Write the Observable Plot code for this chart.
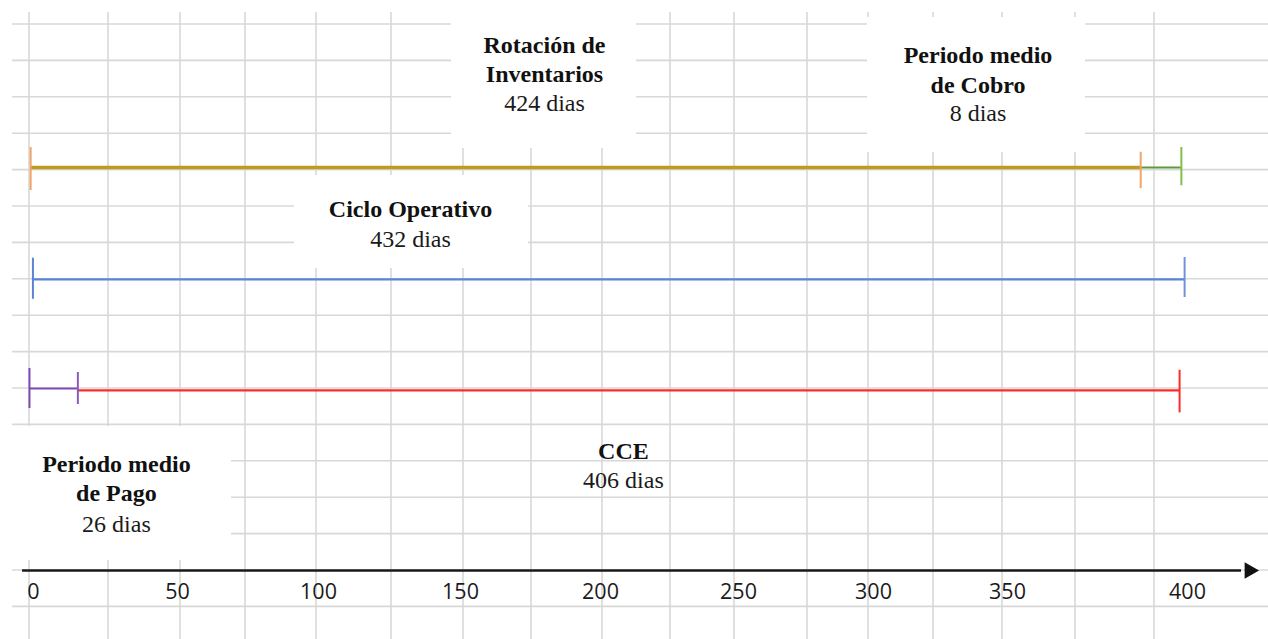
<!DOCTYPE html>
<html>
<head>
<meta charset="utf-8">
<script src="https://cdn.jsdelivr.net/npm/d3@7"></script>
<script src="https://cdn.jsdelivr.net/npm/@observablehq/plot@0.6"></script>
<style>
  html, body { margin: 0; padding: 0; background: #ffffff; overflow: hidden; }
</style>
</head>
<body>
<div id="chart"></div>
<script>
// ---------------- DATA ----------------
const seriesNames = ["Rotación de Inventarios", "Periodo medio de Cobro", "Ciclo Operativo", "Periodo medio de Pago", "CCE"];
const seriesDays  = [424, 8, 432, 26, 406];
// segment extents as drawn against the axis
const segStart = [-1, 387, -0.2, -1.4, 15.4];
const segEnd   = [387, 398.3, 399.2, 15.4, 397.8];
const tickValues = [0, 50, 100, 150, 200, 250, 300, 350, 400];
const tickLabels = ["0", "50", "100", "150", "200", "250", "300", "350", "400"];

// ---------------- LAYOUT / STYLE ----------------
const W = 1268, H = 639;
const tickPx = [33, 177, 318, 460, 600, 738, 873, 1007, 1187];   // axis label positions (px)
const seriesRow   = [3.93, 3.93, 7.0, 10.0, 10.05];                // spreadsheet row units
const seriesColor = ["#C09A1F", "#5E9B3C", "#5B84D4", "#7E4BB5", "#FF2B2B"];
const seriesWidth = [3.5, 2, 2.2, 2, 2.2];
// end caps: series index, which end, colour, extent above/below (rows)
const caps = [
  {s: 0, end: "start", color: "#F2A466", up: 0.55, down: 0.63},
  {s: 0, end: "end",   color: "#F2A466", up: 0.42, down: 0.58},
  {s: 1, end: "end",   color: "#7FBF4A", up: 0.55, down: 0.50},
  {s: 2, end: "start", color: "#5B84D4", up: 0.58, down: 0.55},
  {s: 2, end: "end",   color: "#6E93DA", up: 0.60, down: 0.50},
  {s: 3, end: "start", color: "#7E4BB5", up: 0.55, down: 0.55},
  {s: 3, end: "end",   color: "#8A5BBE", up: 0.44, down: 0.44},
  {s: 4, end: "end",   color: "#FF2B2B", up: 0.55, down: 0.62}
];
const titleText = ["Rotación de\nInventarios", "Periodo medio\nde Cobro", "Ciclo Operativo", "Periodo medio\nde Pago", "CCE"];
const labelX        = [180, 339, 132.4, 28.8, 208.3];
const labelTitleRow = [1.59, 1.87, 5.30, 13.10, 11.95];
const labelValueRow = [2.39, 2.64, 6.10, 13.93, 12.72];
const axisFrom = -3.8, axisTo = 415, arrowAt = 417.2, axisRow = 15;
// spreadsheet background
const gridCols = [29, 108, 180, 245, 316, 391, 463, 531, 602, 670, 734, 807, 868, 933, 1002, 1075, 1154];
const gridRows = d3.range(0, 17);
const whiteBoxes = [[451, 0, 636, 148], [867, 17, 1085, 152], [294, 175, 528, 268], [12, 426, 231, 560]];

// ---------------- BUILD ----------------
const segs = seriesNames.map((name, i) => ({name, i, x1: segStart[i], x2: segEnd[i], row: seriesRow[i]}));
const capData = caps.map(c => ({
  x: c.end === "start" ? segStart[c.s] : segEnd[c.s],
  y1: seriesRow[c.s] - c.up,
  y2: seriesRow[c.s] + c.down,
  color: c.color
}));
const labels = seriesNames.map((name, i) => ({
  title: titleText[i], value: `${seriesDays[i]} dias`,
  x: labelX[i], ty: labelTitleRow[i], vy: labelValueRow[i]
}));
const tickLabelOf = new Map(tickValues.map((v, i) => [v, tickLabels[i]]));

const plot = Plot.plot({
  width: W, height: H,
  marginTop: 0, marginLeft: 12, marginRight: 0, marginBottom: H - 570,
  style: {background: "#ffffff", fontFamily: "Liberation Serif"},
  x: {type: "linear", domain: tickValues, range: tickPx, label: null},
  y: {type: "linear", domain: [0, 15], range: [24, 570], axis: null},
  color: {type: "identity"},
  marks: [
    // segments
    ...segs.map(d => Plot.ruleY([d], {y: "row", x1: "x1", x2: "x2", stroke: seriesColor[d.i], strokeWidth: seriesWidth[d.i]})),
    // end caps
    Plot.ruleX(capData, {x: "x", y1: "y1", y2: "y2", stroke: "color", strokeWidth: 2}),
    // axis line + arrow head
    Plot.ruleY([axisRow], {x1: axisFrom, x2: axisTo, stroke: "#1a1a1a", strokeWidth: 2.5}),
    Plot.dot([arrowAt], {x: d => d, y: () => axisRow, symbol: "triangle", rotate: 90, r: 6.2, fill: "#111", stroke: "none"}),
    Plot.axisX(tickValues, {
      anchor: "bottom", tickSize: 0, tickPadding: 13, label: null,
      tickFormat: d => tickLabelOf.get(d),
      fontSize: 21.5, fontFamily: "Open Sans", fill: "#1b1b1b"
    }),
    // labels
    Plot.text(labels, {x: "x", y: "ty", text: "title", fontFamily: "Liberation Serif", fontSize: 24,
      fontWeight: "bold", lineAnchor: "bottom", lineHeight: 1.22, textAnchor: "middle", fill: "#111"}),
    Plot.text(labels, {x: "x", y: "vy", text: "value", fontFamily: "Liberation Serif", fontSize: 24,
      lineAnchor: "bottom", textAnchor: "middle", fill: "#1a1a1a"})
  ]
});

// spreadsheet grid and white text boxes behind the marks
const yS = plot.scale("y");
const bg = document.createElementNS("http://www.w3.org/2000/svg", "g");
const styleEl = plot.querySelector("style");
plot.insertBefore(bg, styleEl ? styleEl.nextSibling : plot.firstChild);
const g = d3.select(bg);
g.selectAll("line.v").data(gridCols).join("line")
  .attr("x1", d => d).attr("x2", d => d).attr("y1", 12).attr("y2", H)
  .attr("stroke", "#D8D8D8").attr("stroke-width", 1.6);
g.selectAll("line.h").data(gridRows).join("line")
  .attr("x1", 12).attr("x2", W).attr("y1", d => yS.apply(d)).attr("y2", d => yS.apply(d))
  .attr("stroke", "#D8D8D8").attr("stroke-width", 1.6);
g.selectAll("rect").data(whiteBoxes).join("rect")
  .attr("x", d => d[0]).attr("y", d => d[1]).attr("width", d => d[2] - d[0]).attr("height", d => d[3] - d[1])
  .attr("fill", "#ffffff");

document.getElementById("chart").append(plot);
</script>
</body>
</html>
